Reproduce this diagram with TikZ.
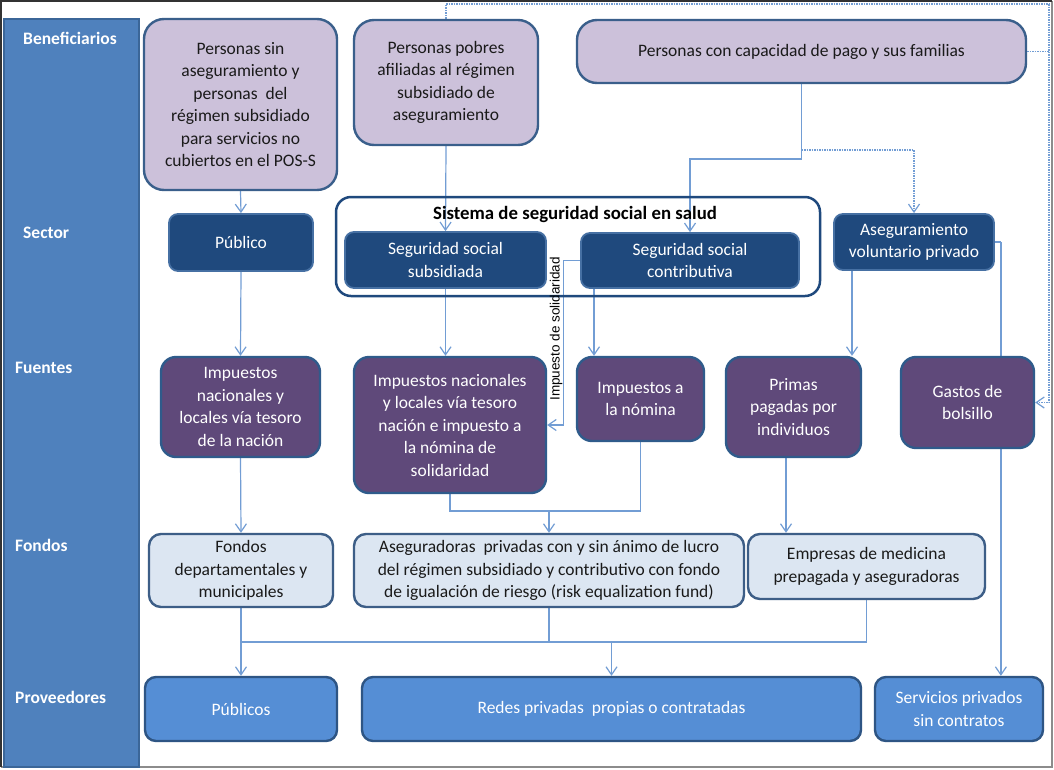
\documentclass[tikz,border=0pt]{standalone}
\usepackage{fontspec}
\setmainfont{Carlito}
\newfontfamily\arialf{Liberation Sans}
\usetikzlibrary{arrows.meta,calc}
\pgfdeclarelayer{back}
\pgfdeclarelayer{bg}
\pgfsetlayers{back,bg,main}
\definecolor{lavfill}{HTML}{CCC1DA}
\definecolor{lavdraw}{HTML}{3A5F8B}
\definecolor{navyfill}{HTML}{1F497D}
\definecolor{navydraw}{HTML}{4670A3}
\definecolor{purfill}{HTML}{5F497A}
\definecolor{purdraw}{HTML}{2F5B8B}
\definecolor{ltfill}{HTML}{DCE6F2}
\definecolor{ltdraw}{HTML}{3D5E87}
\definecolor{provfill}{HTML}{558ED5}
\definecolor{provdraw}{HTML}{2E5584}
\definecolor{colfill}{HTML}{4F81BD}
\definecolor{coldraw}{HTML}{3B6698}
\definecolor{connc}{HTML}{729DD4}
\definecolor{txtdark}{HTML}{1A1A1A}
\begin{document}
\begin{tikzpicture}[x=1pt,y=-1pt,
  boxbase/.style={inner sep=0pt, align=center, font=\fontsize{17.5}{22.5}\selectfont},
  lavbox/.style={boxbase, rounded corners=20pt, fill=lavfill, draw=lavdraw, line width=2.4pt, text=txtdark},
  navybox/.style={boxbase, rounded corners=9pt, fill=navyfill, draw=navydraw, line width=1.8pt, text=white},
  purbox/.style={boxbase, rounded corners=15pt, fill=purfill, draw=purdraw, line width=2.4pt, text=white},
  ltbox/.style={boxbase, rounded corners=12pt, fill=ltfill, draw=ltdraw, line width=2.4pt, text=txtdark},
  provbox/.style={boxbase, rounded corners=11pt, fill=provfill, draw=provdraw, line width=2.4pt, text=white},
  rowlabel/.style={anchor=west, inner sep=0pt, text=white, font=\fontsize{17.5}{20}\selectfont\bfseries},
  conn/.style={draw=connc, line width=1.2pt},
  arr/.style={conn, -{Straight Barb[length=8pt,width=11pt,line width=1.2pt]}},
  dotconn/.style={draw=connc, line width=1.2pt, dash pattern=on 1.5pt off 1pt},
  dotarr/.style={dotconn, -{Straight Barb[length=8pt,width=11pt,line width=1.2pt]}}
]
\useasboundingbox (0,0) rectangle (1054,769);
\begin{pgfonlayer}{back}
\fill[white] (0,0) rectangle (1054,769);
\end{pgfonlayer}
% outer frame
\draw[line width=1.2pt, draw=black!45] (1052,1) -- (1052,767) -- (1,767);
\draw[line width=1.8pt, draw=black!80] (1,767) -- (1,1) -- (1052,1);

% left column
\node[draw=coldraw, fill=colfill, line width=1.2pt, minimum width=135pt, minimum height=748pt, inner sep=0pt] (col) at (71.5,393) {};
\node[rowlabel] (lb1) at (23,38) {Beneficiarios};
\node[rowlabel] (lb2) at (23,233) {Sector};
\node[rowlabel] (lb3) at (15,368) {Fuentes};
\node[rowlabel] (lb4) at (15,545) {Fondos};
\node[rowlabel] (lb5) at (15,697) {Proveedores};

% beneficiarios
\node[lavbox, minimum width=193pt, minimum height=171pt] (ps) at (240.5,104.5) {Personas sin\\aseguramiento y\\personas~ del\\régimen subsidiado\\para servicios no\\cubiertos en el POS-S};
\node[lavbox, minimum width=184pt, minimum height=125pt] (pob) at (446,82.5) {Personas pobres\\afiliadas al régimen\\subsidiado de\\aseguramiento};
\node[lavbox, minimum width=449pt, minimum height=63pt] (cap) at (801.5,51.5) {Personas con capacidad de pago y sus familias};

% sector
\node[navybox, minimum width=144pt, minimum height=57pt] (pub) at (241,242.5) {Público};
\node[draw=navyfill, line width=2.5pt, rounded corners=15pt, minimum width=484pt, minimum height=99pt, inner sep=0pt] (sis) at (578,246.5) {};
\node[inner sep=0pt, font=\fontsize{18.8}{20}\selectfont\bfseries, text=black] (sistit) at (575,214) {Sistema de seguridad social en salud};
\node[navybox, minimum width=201pt, minimum height=56pt] (subs) at (445.5,260) {Seguridad social\\subsidiada};
\node[navybox, minimum width=218pt, minimum height=55pt] (contrib) at (690,260.5) {Seguridad social\\contributiva};
\node[navybox, minimum width=160pt, minimum height=56pt] (asv) at (914,242) {Aseguramiento\\voluntario privado};

% fuentes
\node[purbox, minimum width=159pt, minimum height=100pt] (f1) at (240.5,407) {Impuestos\\nacionales y\\locales vía tesoro\\de la nación};
\node[purbox, minimum width=192pt, minimum height=136pt] (f2) at (450,425) {Impuestos nacionales\\y locales vía tesoro\\nación e impuesto a\\la nómina de\\solidaridad};
\node[purbox, minimum width=127pt, minimum height=84pt] (f3) at (640.5,399) {Impuestos a\\la nómina};
\node[purbox, minimum width=135pt, minimum height=100pt] (f4) at (793.5,407) {Primas\\pagadas por\\individuos};
\node[purbox, minimum width=133pt, minimum height=91pt] (f5) at (967.5,402.5) {Gastos de\\bolsillo};

% fondos
\node[ltbox, minimum width=184pt, minimum height=73pt] (fo1) at (241,570.5) {Fondos\\departamentales y\\municipales};
\node[ltbox, minimum width=390pt, minimum height=73pt] (fo2) at (549,570.5) {Aseguradoras~ privadas con y sin ánimo de lucro\\del régimen subsidiado y contributivo con fondo\\de igualación de riesgo (risk equalization fund)};
\node[ltbox, minimum width=237pt, minimum height=65pt] (fo3) at (866.5,566.5) {Empresas de medicina\\prepagada y aseguradoras};

% proveedores
\node[provbox, minimum width=192pt, minimum height=64pt] (p1) at (241,709) {Públicos};
\node[provbox, minimum width=499pt, minimum height=64pt] (p2) at (611.5,709) {Redes privadas~ propias o contratadas};
\node[provbox, minimum width=168pt, minimum height=64pt] (p3) at (959,709) {Servicios privados\\sin contratos};

\begin{pgfonlayer}{bg}
% beneficiarios -> sector
\draw[arr] (ps.south) -- (pub.north);
\draw[arr] (pob.south) -- (subs.north);
\draw[conn] (cap.south) -- (cap.south |- 0,159) coordinate (k1);
\draw[arr] (k1) -| (contrib.north);
\draw[dotarr] (cap.south |- 0,150) -| (asv.north);
% top dotted loop to gastos de bolsillo
\coordinate (tl) at (pob.north |- 0,4);
\coordinate (tr) at (1049,4);
\draw[dotconn] (pob.north) -- (tl) -- (tr);
\draw[dotconn] (cap.east) -- (cap.east -| tr);
\draw[dotarr] (tr) |- (f5.east);
% sector -> fuentes
\draw[arr] (pub.south) -- (f1.north);
\draw[arr] (subs.south) -- (subs.south |- f2.north);
\draw[arr] (contrib.south -| 594,0) -- (f3.north -| 594,0);
\draw[arr] (contrib.west) -- ++(-17,0) coordinate (k2) |- (f2.east |- 0,425);
\draw[arr] (asv.south -| 852,0) -- (f4.north -| 852,0);
\draw[conn] (asv.east) -- ++(6,0) coordinate (k3);
\draw[arr] (k3) -- (k3 |- p3.north);
% fuentes -> fondos
\draw[arr] (f1.south) -- (fo1.north);
\draw[conn] (f2.south) -- (f2.south |- 0,511) coordinate (k4) -| (f3.south);
\draw[arr] (fo2.north |- k4) -- (fo2.north);
\draw[arr] (f4.south -| 786,0) -- (fo3.north -| 786,0);
% fondos -> proveedores
\draw[conn] (fo1.south) -- (fo1.south |- 0,642) coordinate (h1);
\draw[arr] (h1) -- (p1.north);
\draw[conn] (h1) -- (fo3.south |- h1) -- (fo3.south);
\draw[conn] (fo2.south) -- (fo2.south |- h1);
\draw[arr] (p2.north |- h1) -- (p2.north);
\end{pgfonlayer}
\node[rotate=90, anchor=south, inner sep=0.5pt, font=\arialf\fontsize{13.5}{14}\selectfont, text=black] (sol) at (k2 |- 0,329) {Impuesto de solidaridad};
\end{tikzpicture}
\end{document}
